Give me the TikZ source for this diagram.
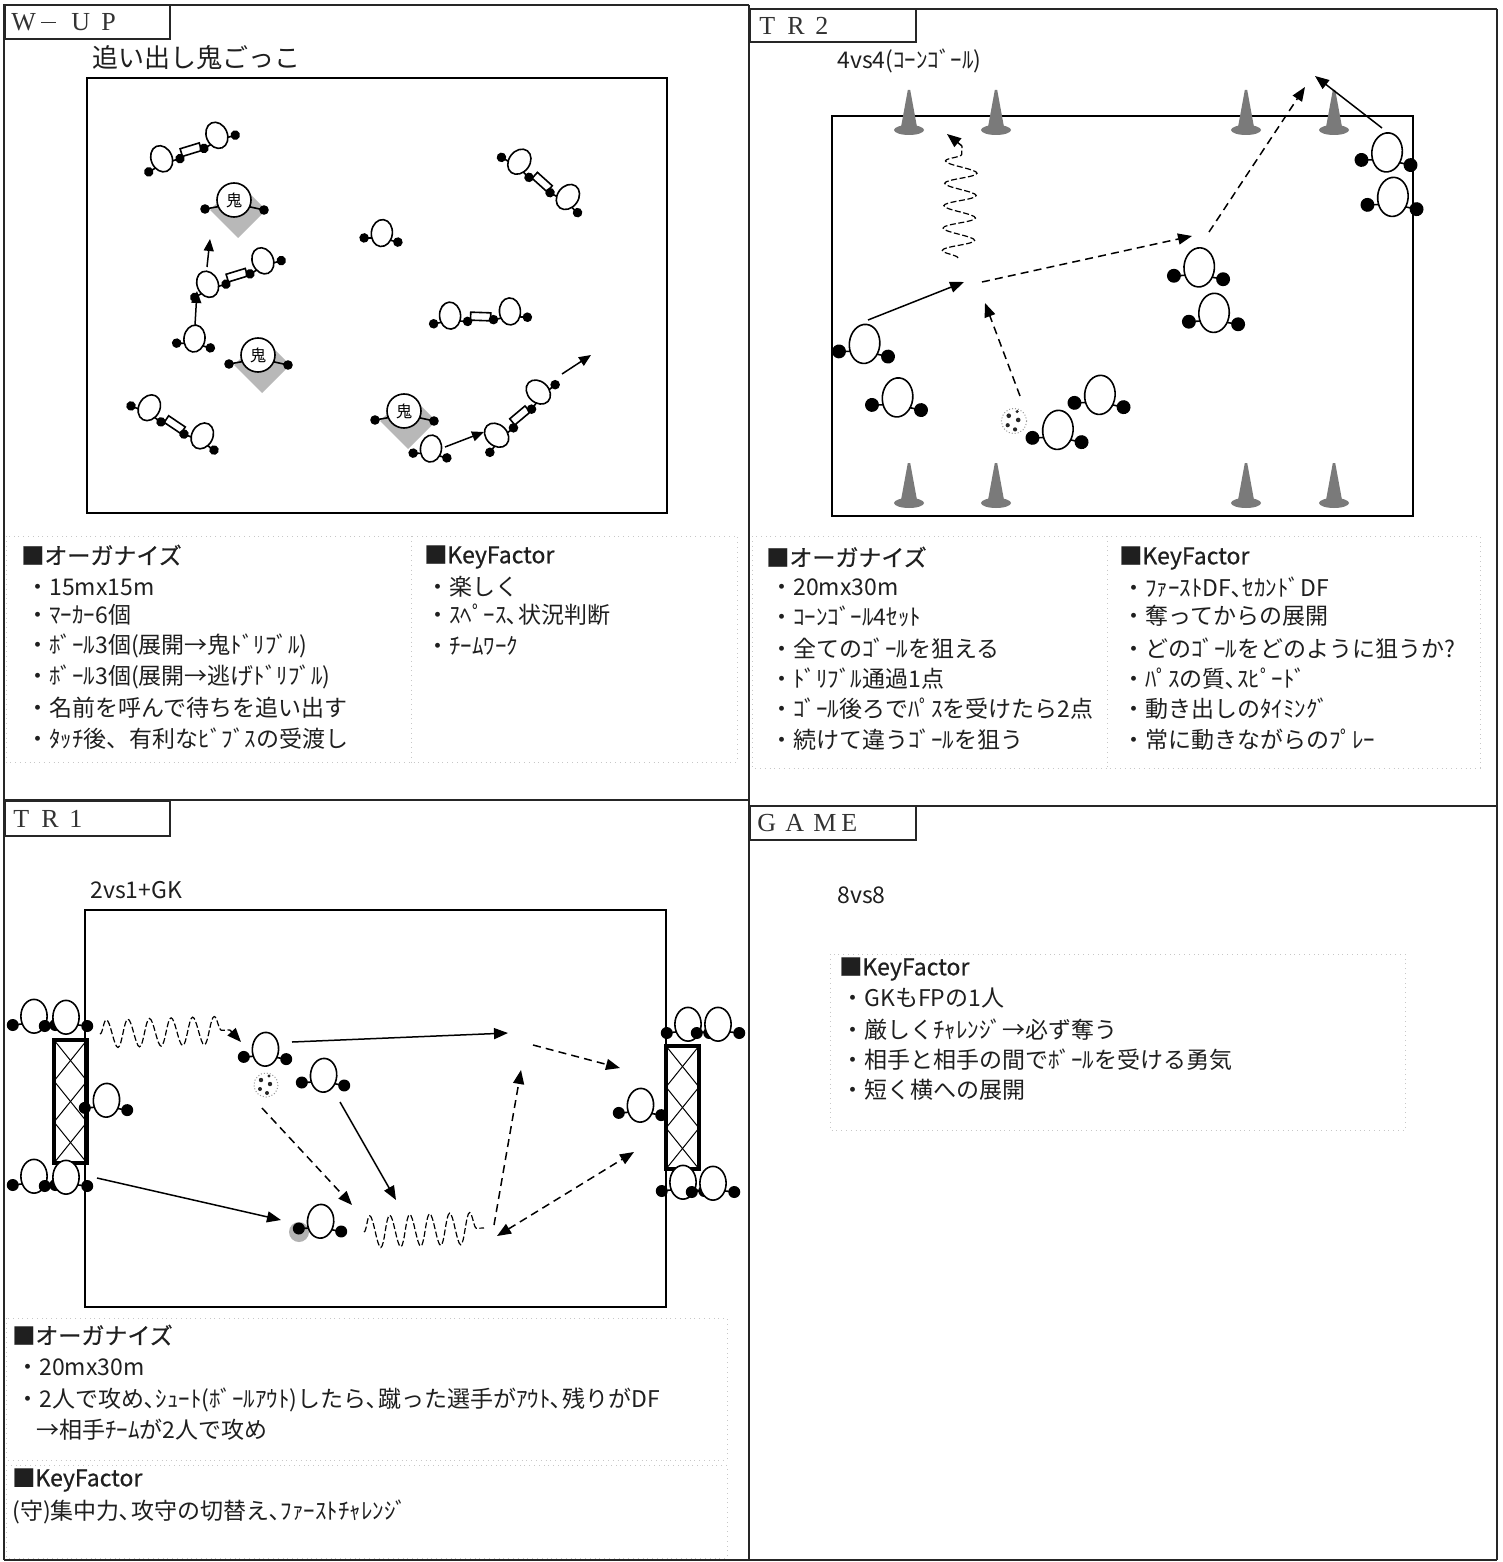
\documentclass[tikz,border=0pt]{standalone}
\usepackage{fontspec}
\newfontfamily\jp{Noto Sans CJK JP}
\newfontfamily\jpm[FakeBold=0.6]{Noto Sans CJK JP}
\newfontfamily\tabserif{Liberation Serif}
\usetikzlibrary{arrows.meta,decorations.pathmorphing}

\tikzset{
  plline/.style={line width=0.8pt},
  % single player seen from above: body and two feet
  plyr/.pic={
    \draw[plline] (-8,-1) -- (-17,0) (8,-1) -- (17,0);
    \draw[plline,fill=white] (0,-7) ellipse [x radius=10.5,y radius=13.5];
    \fill (-17,0) circle [radius=4.8] (17,0) circle [radius=4.8];
  },
  % two players holding a bib between them
  duo/.pic={
    \draw[plline] (-38,-1) -- (-47,0) (-22,-1) -- (-13,0) (22,-1) -- (13,0) (38,-1) -- (47,0);
    \draw[plline,fill=white,rotate=-6] (-10,-8) rectangle (10,0);
    \draw[plline,fill=white] (-30,-7) ellipse [x radius=10.5,y radius=13.5] (30,-7) ellipse [x radius=10.5,y radius=13.5];
    \fill (-47,0) circle [radius=4.8] (-13,0) circle [radius=4.8] (13,0) circle [radius=4.8] (47,0) circle [radius=4.8];
  },
  % the tagger with a grey shadow
  oni/.pic={
    \fill[black!28] (-24,10) -- (4,-18) -- (32,10) -- (4,38) -- cycle;
    \draw[plline] (-12,6) -- (-29,9) (12,6) -- (30,10);
    \fill (-29,9) circle [radius=4.8] (30,10) circle [radius=4.8];
    \draw[plline,fill=white] (0,0) circle [radius=17];
    \node[inner sep=0pt,font=\jp\fontsize{8}{8}\selectfont] (-k) at (0,0) {鬼};
  },
  cone/.pic={
    \fill[black!52] (-8,-3) -- (-1.2,-40) -- (1.2,-40) -- (8,-3) -- cycle;
    \fill[black!52] (0,0) ellipse [x radius=15,y radius=5];
  },
  ball/.pic={
    \draw[black!40,densely dotted,line width=0.5pt,fill=white] (0,0) circle [radius=12];
    \fill[black!85] (-5,-5) circle [radius=2.2] (4,-1) circle [radius=2.2] (-6,4) circle [radius=2] (1,8) circle [radius=2] (3,-9) circle [radius=1.6];
  },
  goal/.pic={
    \draw[line width=0.5pt] (0,0) -- (33,41) -- (0,82) -- (33,123);
    \draw[line width=0.5pt] (33,0) -- (0,41) -- (33,82) -- (0,123);
    \draw[line width=1.6pt] (0,0) rectangle (33,123);
  },
  frame/.style={line width=1.1pt,draw=black!85},
  field/.style={line width=1pt,draw=black},
  sarrow/.style={line width=0.75pt,-{Triangle[length=7pt,width=5.5pt]}},
  darrow/.style={sarrow,dash pattern=on 4pt off 2.6pt},
  warrow/.style={line width=0.75pt,-{Triangle[length=6pt,width=5pt]}},
  dribble/.style 2 args={line width=0.6pt,dash pattern=on 3pt off 1.3pt,decorate,
    decoration={snake,amplitude=#1,segment length=#2}},
  faint/.style={draw=black!22,dotted,line width=0.4pt},
  jtxt/.style={anchor=west,inner sep=0pt,text=black!88,font=\jp\fontsize{11.5}{13}\selectfont},
  jhead/.style={anchor=west,inner sep=0pt,text=black!88,font=\jpm\fontsize{11.5}{13}\selectfont},
  tabtxt/.style={anchor=west,inner sep=0pt,text=black!80,font=\tabserif\fontsize{13}{13}\selectfont},
}
\newcommand\tl[2][14pt]{\makebox[#1][l]{#2}}

\begin{document}
\begin{tikzpicture}[x=0.5pt,y=-0.5pt]
\useasboundingbox (0,0) rectangle (1503,1562);
\fill[white] (0,0) rectangle (1503,1562);

% ---------- sheet frame ----------
\draw[frame] (4,5) -- (749,5);
\draw[frame] (749,9) -- (1497,9);
\draw[frame] (4,4) -- (4,1560);
\draw[frame] (749,5) -- (749,1560);
\draw[frame] (1497,9) -- (1497,1560);
\draw[frame] (4,800) -- (749,800);
\draw[frame] (749,806) -- (1497,806);
\draw[frame] (4,1560) -- (1497,1560);

% tabs
\draw[frame] (5,5) rectangle (170,39);
\draw[frame] (750,9) rectangle (916,42);
\draw[frame] (5,801) rectangle (170,836);
\draw[frame] (750,806) rectangle (916,840);
\node[tabtxt] (tabW) at (11,22) {\tl[15pt]{W}\tl[15pt]{\rule[3.8pt]{7.5pt}{0.5pt}}\tl[15pt]{U}P};
\node[tabtxt] (tabT2) at (759,26) {\tl{T}\tl{R}2};
\node[tabtxt] (tabT1) at (13,819) {\tl{T}\tl{R}1};
\node[tabtxt] (tabG) at (757,823) {\tl{G}\tl{A}\tl{M}E};

% ================= W-UP =================
\node[jtxt,font=\jp\fontsize{13}{14}\selectfont] (wtitle) at (92,58) {追い出し鬼ごっこ};
\draw[field] (87,78) rectangle (667,513);

\pic[rotate=23] (wd1) at (192,153.5) {duo};
\pic[rotate=-36] (wd2) at (539.5,185) {duo};
\pic[rotate=23] (wd3) at (238,279) {duo};
\pic[rotate=4] (wd4) at (480.5,320.5) {duo};
\pic[rotate=-28] (wd5) at (172.5,428) {duo};
\pic[rotate=46] (wd6) at (522.5,418.5) {duo};
\pic[rotate=-7] (wp1) at (381,240) {plyr};
\pic[rotate=-8] (wp2) at (193.5,345.5) {plyr};
\pic[rotate=-8] (wp3) at (430,455.5) {plyr};
\pic (wo1) at (234,200) {oni};
\pic (wo2) at (258,355) {oni};
\pic (wo3) at (404,411) {oni};

\coordinate (wa1) at (207,267); \coordinate (wb1) at (210,239);
\coordinate (wa2) at (195,325); \coordinate (wb2) at (197,291);
\coordinate (wa3) at (445,447); \coordinate (wb3) at (484,432);
\coordinate (wa4) at (562,374); \coordinate (wb4) at (591,355);
\draw[warrow] (wa1) -- (wb1);
\draw[warrow] (wa2) -- (wb2);
\draw[warrow] (wa3) -- (wb3);
\draw[warrow] (wa4) -- (wb4);

\draw[faint] (6,536) rectangle (737,762);
\draw[faint] (411,536) -- (411,762);
\node[jhead] (wh1) at (21,555) {■オーガナイズ};
\node[jtxt] (wl1) at (26,587) {・15mx15m};
\node[jtxt] (wl2) at (26,615) {・ﾏｰｶｰ6個};
\node[jtxt] (wl3) at (26,646) {・ﾎﾞｰﾙ3個(展開→鬼ﾄﾞﾘﾌﾞﾙ)};
\node[jtxt] (wl4) at (26,677) {・ﾎﾞｰﾙ3個(展開→逃げﾄﾞﾘﾌﾞﾙ)};
\node[jtxt] (wl5) at (26,708) {・名前を呼んで待ちを追い出す};
\node[jtxt] (wl6) at (26,739) {・ﾀｯﾁ後、有利なﾋﾞﾌﾞｽの受渡し};
\node[jhead] (wh2) at (424,557) {■KeyFactor};
\node[jtxt] (wk1) at (426,587) {・楽しく};
\node[jtxt] (wk2) at (426,615) {・ｽﾍﾟｰｽ､状況判断};
\node[jtxt] (wk3) at (426,646) {・ﾁｰﾑﾜｰｸ};

% ================= TR2 =================
\node[jtxt] (ttitle) at (837,61) {4vs4(ｺｰﾝｺﾞｰﾙ)};
\draw[field] (832,116) rectangle (1413,516);
\foreach \cx [count=\i] in {909,996,1246,1334}{
  \pic (ctop\i) at (\cx,130) {cone};
  \pic (cbot\i) at (\cx,503) {cone};
}
\pic[scale=1.45,rotate=-6] (tp1) at (1386,162.5) {plyr};
\pic[scale=1.45,rotate=-5] (tp2) at (1392,207) {plyr};
\pic[scale=1.45,rotate=-4] (tp3) at (1198.5,277.5) {plyr};
\pic[scale=1.45,rotate=-3] (tp4) at (1213.5,323) {plyr};
\pic[scale=1.45,rotate=-6] (tp5) at (863.5,354) {plyr};
\pic[scale=1.45,rotate=-6] (tp6) at (896.5,407.5) {plyr};
\pic[scale=1.45,rotate=-5] (tp7) at (1099,405) {plyr};
\pic[scale=1.45,rotate=-5] (tp8) at (1057,440) {plyr};
\pic[scale=1.05] (tball) at (1014,421) {ball};

\coordinate (ts1a) at (868,320);  \coordinate (ts1b) at (964,282);
\coordinate (td1a) at (982,282);  \coordinate (td1b) at (1192,236);
\coordinate (td2a) at (1209,232); \coordinate (td2b) at (1305,87);
\coordinate (ts2a) at (1382,128); \coordinate (ts2b) at (1315,76);
\coordinate (td3a) at (1020,396); \coordinate (td3b) at (985,303);
\coordinate (tw1) at (958,258);   \coordinate (tw2) at (962,146);
\coordinate (tw3) at (947,134);
\draw[sarrow] (ts1a) -- (ts1b);
\draw[darrow] (td1a) -- (td1b);
\draw[darrow] (td2a) -- (td2b);
\draw[sarrow] (ts2a) -- (ts2b);
\draw[darrow] (td3a) -- (td3b);
\draw[dribble={8pt}{11.2pt}] (tw1) -- (tw2);
\draw[sarrow,dash pattern=on 3pt off 1.3pt] (tw2) -- (tw3);

\draw[faint] (752,536) rectangle (1480,768);
\draw[faint] (1107,536) -- (1107,768);
\node[jhead] (th1) at (766,557) {■オーガナイズ};
\node[jtxt] (tl1) at (770,587) {・20mx30m};
\node[jtxt] (tl2) at (770,616) {・ｺｰﾝｺﾞｰﾙ4ｾｯﾄ};
\node[jtxt] (tl3) at (770,648) {・全てのｺﾞｰﾙを狙える};
\node[jtxt] (tl4) at (770,679) {・ﾄﾞﾘﾌﾞﾙ通過1点};
\node[jtxt] (tl5) at (770,709) {・ｺﾞｰﾙ後ろでﾊﾟｽを受けたら2点};
\node[jtxt] (tl6) at (770,740) {・続けて違うｺﾞｰﾙを狙う};
\node[jhead] (th2) at (1119,558) {■KeyFactor};
\node[jtxt] (tk1) at (1122,587) {・ﾌｧｰｽﾄDF､ｾｶﾝﾄﾞDF};
\node[jtxt] (tk2) at (1122,616) {・奪ってからの展開};
\node[jtxt] (tk3) at (1122,648) {・どのｺﾞｰﾙをどのように狙うか?};
\node[jtxt] (tk4) at (1122,679) {・ﾊﾟｽの質､ｽﾋﾟｰﾄﾞ};
\node[jtxt] (tk5) at (1122,709) {・動き出しのﾀｲﾐﾝｸﾞ};
\node[jtxt] (tk6) at (1122,740) {・常に動きながらのﾌﾟﾚｰ};

% ================= TR1 =================
\node[jtxt] (rtitle) at (90,890) {2vs1+GK};
\draw[field] (85,910) rectangle (666,1307);
\pic (lgoal) at (54,1040) {goal};
\pic (rgoal) at (666,1046) {goal};

\pic[scale=1.25] (r1) at (34,1025) {plyr};
\pic[scale=1.25] (r2) at (66,1026) {plyr};
\pic[scale=1.25,rotate=-3] (r3) at (106,1109) {plyr};
\pic[scale=1.25] (r4) at (34,1185) {plyr};
\pic[scale=1.25] (r5) at (66,1186) {plyr};
\pic[scale=1.25] (r6) at (688,1033) {plyr};
\pic[scale=1.25] (r7) at (718,1033) {plyr};
\pic[scale=1.25,rotate=-3] (r8) at (640,1114) {plyr};
\pic[scale=1.25] (r9) at (683,1191) {plyr};
\pic[scale=1.25] (r10) at (713,1192) {plyr};
\pic[scale=1.25,rotate=-3] (r11) at (265,1058) {plyr};
\pic[scale=1.25,rotate=-4] (r12) at (323,1084) {plyr};
\fill[black!30] (299,1232) circle [radius=10];
\pic[scale=1.25,rotate=-4] (r13) at (320,1230) {plyr};
\pic (rball) at (266,1085) {ball};

\coordinate (rs1a) at (292,1042); \coordinate (rs1b) at (508,1033);
\coordinate (rd1a) at (533,1045); \coordinate (rd1b) at (620,1068);
\coordinate (rd2a) at (262,1108); \coordinate (rd2b) at (352,1205);
\coordinate (rs2a) at (340,1102); \coordinate (rs2b) at (396,1200);
\coordinate (rs3a) at (97,1178);  \coordinate (rs3b) at (281,1220);
\coordinate (rd3a) at (494,1225); \coordinate (rd3b) at (521,1070);
\coordinate (rd4a) at (497,1236); \coordinate (rd4b) at (634,1152);
\coordinate (rw1) at (100,1034);  \coordinate (rw2) at (230,1030);
\coordinate (rw3) at (241,1042);
\coordinate (rw4) at (364,1232);  \coordinate (rw5) at (484,1228);
\draw[sarrow] (rs1a) -- (rs1b);
\draw[darrow] (rd1a) -- (rd1b);
\draw[darrow] (rd2a) -- (rd2b);
\draw[sarrow] (rs2a) -- (rs2b);
\draw[sarrow] (rs3a) -- (rs3b);
\draw[darrow] (rd3a) -- (rd3b);
\draw[darrow,{Triangle[length=7pt,width=5.5pt]}-{Triangle[length=7pt,width=5.5pt]}] (rd4a) -- (rd4b);
\draw[dribble={7pt}{10.8pt}] (rw1) -- (rw2);
\draw[sarrow,dash pattern=on 3pt off 1.3pt] (rw2) -- (rw3);
\draw[dribble={8pt}{10pt}] (rw4) -- (rw5);

\draw[faint] (6,1318) rectangle (727,1460);
\draw[faint] (6,1465) rectangle (727,1558);
\node[jhead] (rh1) at (12,1335) {■オーガナイズ};
\node[jtxt] (rl1) at (16,1367) {・20mx30m};
\node[jtxt] (rl2) at (16,1400) {・2人で攻め､ｼｭｰﾄ(ﾎﾞｰﾙｱｳﾄ)したら､蹴った選手がｱｳﾄ､残りがDF};
\node[jtxt] (rl3) at (36,1430) {→相手ﾁｰﾑが2人で攻め};
\node[jhead] (rh2) at (12,1480) {■KeyFactor};
\node[jtxt] (rk1) at (12,1512) {(守)集中力､攻守の切替え､ﾌｧｰｽﾄﾁｬﾚﾝｼﾞ};

% ================= GAME =================
\node[jtxt] (gtitle) at (837,895) {8vs8};
\draw[faint] (830,954) rectangle (1405,1130);
\node[jhead] (gh) at (839,969) {■KeyFactor};
\node[jtxt] (gk1) at (841,998) {・GKもFPの1人};
\node[jtxt] (gk2) at (841,1030) {・厳しくﾁｬﾚﾝｼﾞ→必ず奪う};
\node[jtxt] (gk3) at (841,1060) {・相手と相手の間でﾎﾞｰﾙを受ける勇気};
\node[jtxt] (gk4) at (841,1090) {・短く横への展開};
\end{tikzpicture}
\end{document}
